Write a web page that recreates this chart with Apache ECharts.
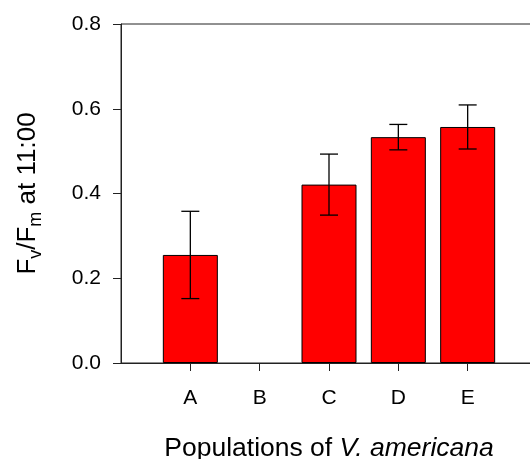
<!DOCTYPE html>
<html>
<head>
<meta charset="utf-8">
<script src="https://cdn.jsdelivr.net/npm/echarts@6/dist/echarts.min.js"></script>
<style>
html,body{margin:0;padding:0;background:#fff;overflow:hidden;}
#c{width:530px;height:459px;}
</style>
</head>
<body>
<div id="c"></div>
<script>
// Data
var categories = ['A', 'B', 'C', 'D', 'E'];
var means = [0.255, null, 0.421, 0.533, 0.557];
var errors = [0.103, null, 0.072, 0.030, 0.052];
var yTicks = [0, 0.2, 0.4, 0.6, 0.8];

var FONT = 'Liberation Sans, Arial, sans-serif';
var xPos = categories.map(function (c, i) { return i + 1; });

var barData = xPos.map(function (x, i) { return [x, means[i]]; });
var errData = [];
xPos.forEach(function (x, i) {
  if (means[i] != null && errors[i] != null) {
    errData.push([x, means[i] - errors[i], means[i] + errors[i]]);
  }
});

var chart = echarts.init(document.getElementById('c'), null, {renderer: 'canvas'});
chart.setOption({
  backgroundColor: '#fff',
  animation: false,
  grid: {
    left: 121, width: 416, top: 24, bottom: 96,
    outerBoundsMode: 'none',
    containLabel: false,
    show: true, borderColor: '#222', borderWidth: 1
  },
  xAxis: {
    type: 'value',
    min: 0, max: 6, interval: 1,
    splitLine: {show: false},
    axisLine: {show: true, lineStyle: {color: '#222', width: 1}},
    axisTick: {show: true, length: 8, customValues: xPos, lineStyle: {color: '#222'}},
    axisLabel: {
      customValues: xPos,
      margin: 25,
      fontFamily: FONT, fontSize: 21, color: '#000',
      formatter: function (v) { return categories[Math.round(v) - 1] || ''; }
    },
    name: '{a|Populations of }{b|V. americana}',
    nameLocation: 'middle',
    nameGap: 72,
    nameTextStyle: {
      rich: {
        a: {fontFamily: FONT, fontSize: 26.5, color: '#000'},
        b: {fontFamily: FONT, fontSize: 26.5, color: '#000', fontStyle: 'italic'}
      }
    }
  },
  yAxis: {
    type: 'value',
    min: yTicks[0], max: yTicks[yTicks.length - 1], interval: 0.2,
    splitLine: {show: false},
    axisLine: {show: true, lineStyle: {color: '#222', width: 1}},
    axisTick: {show: true, length: 8, lineStyle: {color: '#222'}},
    axisLabel: {
      margin: 20,
      fontFamily: FONT, fontSize: 21, color: '#000',
      formatter: function (v) { return v.toFixed(1); }
    },
    name: '{n|F}{s|v}{n|/F}{s|m}{n| at 11:00}',
    nameLocation: 'middle',
    nameGap: 76,
    nameTextStyle: {
      rich: {
        n: {fontFamily: FONT, fontSize: 26, color: '#000', lineHeight: 35, verticalAlign: 'middle'},
        s: {fontFamily: FONT, fontSize: 18, color: '#000', lineHeight: 35, verticalAlign: 'bottom'}
      }
    }
  },
  series: [
    {
      type: 'bar',
      data: barData,
      barWidth: 55,
      itemStyle: {color: '#ff0000', borderColor: '#000', borderWidth: 1}
    },
    {
      type: 'custom',
      data: errData,
      z: 5,
      renderItem: function (params, api) {
        var x = api.value(0);
        var lo = api.coord([x, api.value(1)]);
        var hi = api.coord([x, api.value(2)]);
        var half = 9;
        var style = {stroke: '#000', lineWidth: 1.3};
        return {
          type: 'group',
          children: [
            {type: 'line', shape: {x1: lo[0], y1: lo[1], x2: hi[0], y2: hi[1]}, style: style},
            {type: 'line', shape: {x1: hi[0] - half, y1: hi[1], x2: hi[0] + half, y2: hi[1]}, style: style},
            {type: 'line', shape: {x1: lo[0] - half, y1: lo[1], x2: lo[0] + half, y2: lo[1]}, style: style}
          ]
        };
      }
    }
  ]
});
</script>
</body>
</html>
